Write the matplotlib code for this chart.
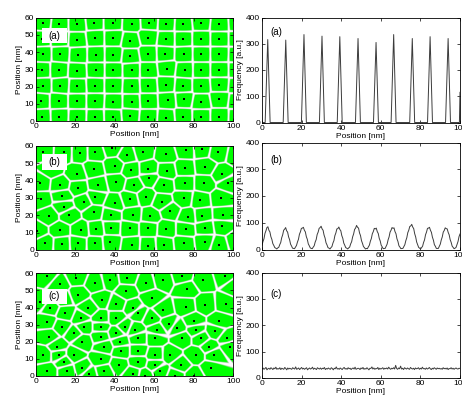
import numpy as np
import matplotlib
matplotlib.use("Agg")
import matplotlib.pyplot as plt
from matplotlib.patches import Rectangle

plt.rcParams['font.family'] = ['Liberation Sans', 'DejaVu Sans']
plt.rcParams['font.size'] = 6

# ---------------- data: seed (cell centre) positions [nm] ----------------
seeds_a_x = [3.3, 11.9, 21.0, 29.6, 39.0, 48.5, 57.6, 66.2, 74.7, 84.0, 93.1, 102.5,
             2.9, 12.0, 21.0, 30.1, 39.3, 47.9, 57.0, 66.2, 74.7, 84.0, 93.1, 102.5,
             3.3, 12.4, 21.5, 30.4, 39.3, 47.9, 57.0, 65.6, 75.1, 84.0, 93.1, 102.5,
             2.9, 11.5, 21.0, 30.4, 39.3, 48.5, 57.0, 66.5, 75.4, 84.0, 93.1, 102.5,
             3.3, 12.4, 21.0, 30.1, 39.3, 48.5, 57.0, 66.2, 74.7, 84.0, 93.1, 102.5,
             2.4, 11.5, 21.0, 30.1, 39.3, 48.5, 57.0, 66.8, 75.1, 84.0, 93.1, 102.5,
             2.9, 11.9, 21.0, 30.1, 39.0, 47.9, 57.0, 66.2, 74.7, 84.0, 93.1, 102.5]
seeds_a_y = [56.9, 56.1, 56.1, 56.9, 56.9, 56.5, 56.9, 56.5, 56.1, 56.9, 56.1, 56.5,
             47.3, 47.3, 46.9, 47.9, 47.9, 46.4, 48.3, 47.3, 47.3, 47.3, 47.3, 47.3,
             38.7, 38.7, 38.3, 38.3, 38.3, 37.4, 38.7, 38.9, 38.7, 38.7, 38.7, 38.5,
             29.3, 29.3, 28.9, 29.3, 29.3, 29.3, 29.3, 30.3, 29.3, 29.3, 29.3, 29.3,
             20.5, 20.5, 20.1, 20.5, 20.5, 20.1, 20.5, 21.1, 20.5, 20.5, 21.1, 20.5,
             11.5, 11.5, 11.5, 11.5, 11.1, 11.1, 11.5, 11.9, 12.5, 11.1, 12.5, 11.5,
             2.3, 2.5, 2.3, 2.1, 2.3, 2.9, 2.3, 1.9, 2.5, 2.5, 2.5, 2.3]

seeds_b_x = [3.8, 14.1, 22.2, 30.1, 38.7, 46.4, 54.1, 66.2, 75.9, 84.5, 92.3, 102.0,
             8.0, 20.6, 29.2, 39.9, 48.1, 57.0, 66.5, 75.4, 85.9, 94.5,
             2.1, 12.4, 21.3, 31.3, 40.7, 49.8, 57.4, 64.8, 75.4, 85.4, 97.4,
             2.4, 13.4, 14.1, 24.4, 30.1, 39.9, 47.6, 55.7, 63.9, 75.1, 83.3, 94.0,
             6.4, 16.7, 29.2, 38.1, 49.0, 57.9, 68.2, 77.1, 84.5, 94.8,
             0.7, 12.0, 22.7, 30.6, 38.1, 47.6, 57.0, 66.2, 75.9, 85.9, 94.5,
             4.6, 13.0, 21.3, 30.1, 37.8, 48.5, 57.0, 64.8, 75.1, 85.9, 92.8, 101.5]
seeds_b_y = [56.7, 56.3, 56.2, 56.3, 58.7, 54.8, 56.7, 55.2, 57.7, 58.1, 56.7, 55.0,
             47.0, 44.0, 46.5, 48.5, 46.2, 46.5, 45.6, 47.1, 48.1, 43.7,
             38.5, 37.5, 36.0, 37.5, 39.4, 37.5, 41.3, 37.5, 38.5, 38.5, 38.5,
             29.2, 31.3, 25.0, 27.9, 30.4, 26.9, 29.2, 30.8, 27.9, 29.8, 28.8, 29.8,
             19.6, 20.2, 21.7, 20.2, 20.2, 19.6, 22.5, 19.2, 19.8, 20.2,
             11.2, 11.5, 11.5, 12.1, 12.9, 12.5, 12.5, 12.1, 12.1, 12.9, 14.0,
             3.8, 3.5, 3.8, 3.8, 4.4, 2.9, 2.5, 2.9, 3.8, 4.8, 2.9, 5.0]

seeds_c_x = [5.5, 12.0, 20.5, 30.1, 37.8, 46.4, 55.7, 64.3, 74.2, 76.4, 85.0, 95.7, 101.0,
             2.0, 7.2, 14.0, 21.3, 26.6, 33.5, 40.7, 45.9, 49.3, 58.8, 64.4, 75.9, 85.9, 96.2,
             5.5, 14.9, 22.7, 33.0, 40.7, 51.9, 58.7, 67.5, 80.0, 93.0,
             13.2, 24.4, 33.0, 45.0, 50.2, 61.5, 71.8, 81.0, 91.0,
             19.2, 40.7, 6.4, 33.0, 51.9, 60.5, 74.2, 83.7, 97.0,
             23.5, 42.5, 10.7, 34.7, 88.0, 98.3, 43.3, 51.9,
             3.8, 11.5, 19.2, 60.5, 68.2, 81.0, 90.5, 32.9, 14.1, 51.9,
             42.0, 60.5, 73.4, 23.5, 88.8, 5.8, 15.8, 34.4, 63.0, 27.0, 49.3, 55.3, 70.8, 80.2]
seeds_c_y = [58.5, 53.6, 57.5, 54.2, 55.8, 57.0, 54.2, 56.0, 58.5, 50.7, 55.8, 58.5, 52.0,
             43.0, 39.6, 45.0, 47.4, 39.6, 44.4, 42.1, 49.7, 39.6, 45.4, 38.6, 40.5, 41.5, 42.1,
             31.8, 36.6, 33.7, 33.7, 33.7, 36.6, 33.7, 30.5, 32.0, 32.0,
             28.8, 28.8, 28.8, 28.8, 26.9, 26.9, 28.0, 26.9, 26.0,
             25.0, 25.0, 23.0, 23.0, 22.0, 22.0, 22.0, 22.0, 22.0,
             20.1, 20.1, 17.2, 17.2, 17.2, 17.2, 14.6, 14.6,
             12.3, 12.3, 12.3, 12.3, 12.3, 12.3, 12.3, 9.7, 8.4, 8.4,
             6.4, 6.4, 6.4, 4.5, 4.5, 2.9, 2.9, 2.9, 2.9, 1.2, 1.2, 0.2, 0.2, 0.2]

# ---------------- data: frequency profiles ----------------
pos_a = [0, 1.6, 2.9, 4.1, 10.7, 12.0, 13.2, 19.9, 21.2, 22.4, 29.0, 30.3, 31.5,
         38.0, 39.3, 40.5, 47.2, 48.5, 49.7, 56.3, 57.6, 58.8, 65.2, 66.5, 67.7,
         74.6, 75.9, 77.1, 83.6, 84.9, 86.1, 92.7, 94.0, 95.2, 99.7, 100]
freq_a = [0, 0, 316, 0, 0, 314, 0, 0, 335, 0, 0, 329, 0,
          0, 327, 0, 0, 320, 0, 0, 305, 0, 0, 335, 0,
          0, 320, 0, 0, 327, 0, 0, 320, 0, 0, 115]

freq_b = [16, 30, 40, 60, 70, 82, 85, 72, 66, 48, 38, 22, 15, 7, 5, 2,
          6, 8, 18, 26, 44, 55, 72, 76, 82, 70, 65, 47, 37, 20, 13, 5, 4, 3,
          9, 15, 28, 38, 57, 66, 79, 80, 83, 72, 66, 48, 38, 21, 14, 6, 4, 3,
          9, 14, 28, 37, 56, 65, 79, 82, 87, 77, 72, 54, 43, 25, 17, 7, 5, 2,
          7, 11, 24, 33, 52, 62, 77, 78, 84, 75, 70, 52, 42, 24, 16, 7, 5, 2,
          6, 9, 21, 29, 47, 58, 75, 80, 90, 83, 80, 62, 52, 33, 23, 11, 7, 2, 4,
          3, 10, 16, 31, 41, 59, 67, 79, 77, 80, 67, 60, 42, 32, 16, 10, 3, 4,
          4, 12, 20, 36, 47, 65, 72, 82, 79, 81, 67, 59, 40, 30, 14, 9, 3, 4,
          4, 11, 18, 33, 44, 63, 72, 86, 88, 94, 84, 78, 59, 47, 28, 18, 8, 5, 2,
          7, 12, 26, 36, 55, 65, 79, 80, 83, 72, 64, 46, 35, 18, 12, 4, 4,
          4, 12, 20, 36, 47, 65, 71, 81, 78, 77, 64, 55, 37, 27, 13, 8, 3, 5,
          8, 19, 30, 48, 58]

freq_c = [34, 38, 33, 36, 40, 31, 35, 37, 33, 39,
          36, 32, 38, 35, 41, 33, 36, 34, 39, 32,
          37, 35, 33, 40, 36, 31, 38, 34, 37, 35,
          33, 39, 36, 34, 42, 33, 35, 38, 32, 36,
          40, 34, 37, 33, 36, 39, 31, 35, 38, 34,
          36, 41, 33, 37, 35, 32, 39, 36, 34, 38,
          33, 37, 35, 40, 32, 36, 34, 38, 35, 33,
          39, 36, 31, 37, 35, 42, 34, 36, 33, 38,
          35, 32, 37, 40, 34, 36, 33, 39, 35, 37,
          32, 36, 38, 34, 41, 33, 35, 37, 36, 32,
          38, 35, 40, 33, 36, 34, 39, 35, 31, 37,
          36, 42, 34, 38, 33, 36, 35, 40, 32, 37,
          34, 36, 39, 33, 37, 35, 38, 34, 41, 36,
          33, 37, 35, 39, 34, 48, 36, 33, 38, 35,
          45, 34, 37, 32, 39, 36, 34, 38, 35, 33,
          40, 36, 34, 37, 32, 38, 35, 36, 39, 33,
          37, 34, 41, 35, 36, 33, 38, 34, 36, 40,
          35, 32, 37, 34, 39, 36, 33, 38, 35, 37,
          34, 36, 33, 39, 35, 37, 34, 38, 32, 36,
          35, 39, 34, 37, 33, 36, 38, 35, 34, 37,
          36]

labels = ['(a)', '(b)', '(c)']
label_y_left = [49.4, 50.8, 46.5]
label_y_right = [345, 334, 320]

GREEN = np.array([0.0, 1.0, 0.0])


def voronoi_rgb(sx, sy, nx=1000, ny=600):
    xs = np.linspace(0, 100, nx)
    ys = np.linspace(0, 60, ny)
    X, Y = np.meshgrid(xs, ys)
    d1 = np.full(X.shape, np.inf)
    d2 = np.full(X.shape, np.inf)
    for a, b in zip(sx, sy):
        d = np.hypot(X - a, Y - b)
        d2 = np.where(d < d1, d1, np.minimum(d2, d))
        d1 = np.minimum(d1, d)
    e = d2 - d1
    white = np.array([1.0, 1.0, 1.0])
    gray = np.array([0.78, 0.78, 0.78])
    core = np.clip((e - 0.55) / 0.3, 0, 1)[..., None]
    img = white * (1 - core) + gray * core
    t = np.clip((e - 0.8) / 0.55, 0, 1)[..., None]
    img = img * (1 - t) + GREEN * t
    return img


def style(ax):
    ax.tick_params(direction='in', top=True, right=True, length=2.5, width=0.5,
                   labelsize=6, pad=1.5)
    for s in ax.spines.values():
        s.set_linewidth(0.6)


fig = plt.figure(figsize=(4.62, 4.03), dpi=100)
W, H = 462.0, 403.0
left_rows = [(17.5, 121.0), (146.0, 250.0), (273.3, 376.0)]
right_rows = [(17.5, 122.5), (142.5, 249.5), (272.5, 378.0)]
seeds = [(seeds_a_x, seeds_a_y), (seeds_b_x, seeds_b_y), (seeds_c_x, seeds_c_y)]
pos_b = np.linspace(0, 100, len(freq_b))
pos_c = np.linspace(0, 100, len(freq_c))
profiles = [(pos_a, freq_a), (pos_b, freq_b), (pos_c, freq_c)]

for i in range(3):
    top, bot = left_rows[i]
    axl = fig.add_axes([36 / W, 1 - bot / H, 197 / W, (bot - top) / H])
    sx, sy = seeds[i]
    axl.imshow(voronoi_rgb(sx, sy), extent=[0, 100, 0, 60], origin='lower',
               aspect='auto', interpolation='antialiased', zorder=0)
    axl.scatter(sx, sy, marker='s', s=1.6, color='black', linewidths=0, zorder=2)
    axl.set_xlim(0, 100)
    axl.set_ylim(0, 60)
    axl.set_xticks([0, 20, 40, 60, 80, 100])
    axl.set_yticks([0, 10, 20, 30, 40, 50, 60])
    axl.set_xlabel('Position [nm]', fontsize=6, labelpad=1)
    axl.set_ylabel('Position [nm]', fontsize=6, labelpad=1)
    axl.add_patch(Rectangle((3.0, label_y_left[i] - 4.4), 12.8, 8.8,
                            facecolor='white', edgecolor='none', zorder=3))
    axl.text(9.4, label_y_left[i], labels[i], ha='center', va='center',
             fontsize=7, zorder=4)
    style(axl)

    top, bot = right_rows[i]
    axr = fig.add_axes([262 / W, 1 - bot / H, 198 / W, (bot - top) / H])
    px, py = profiles[i]
    axr.plot(px, py, color='#3c3c3c', lw=0.7)
    axr.set_xlim(0, 100)
    axr.set_ylim(0, 400)
    axr.set_xticks([0, 20, 40, 60, 80, 100])
    axr.set_yticks([0, 100, 200, 300, 400])
    axr.set_xlabel('Position [nm]', fontsize=6, labelpad=1)
    axr.set_ylabel('Frequency [a.u.]', fontsize=6, labelpad=1)
    axr.text(4.0, label_y_right[i], labels[i], ha='left', va='center', fontsize=7)
    style(axr)

fig.savefig('out.png', dpi=100)
